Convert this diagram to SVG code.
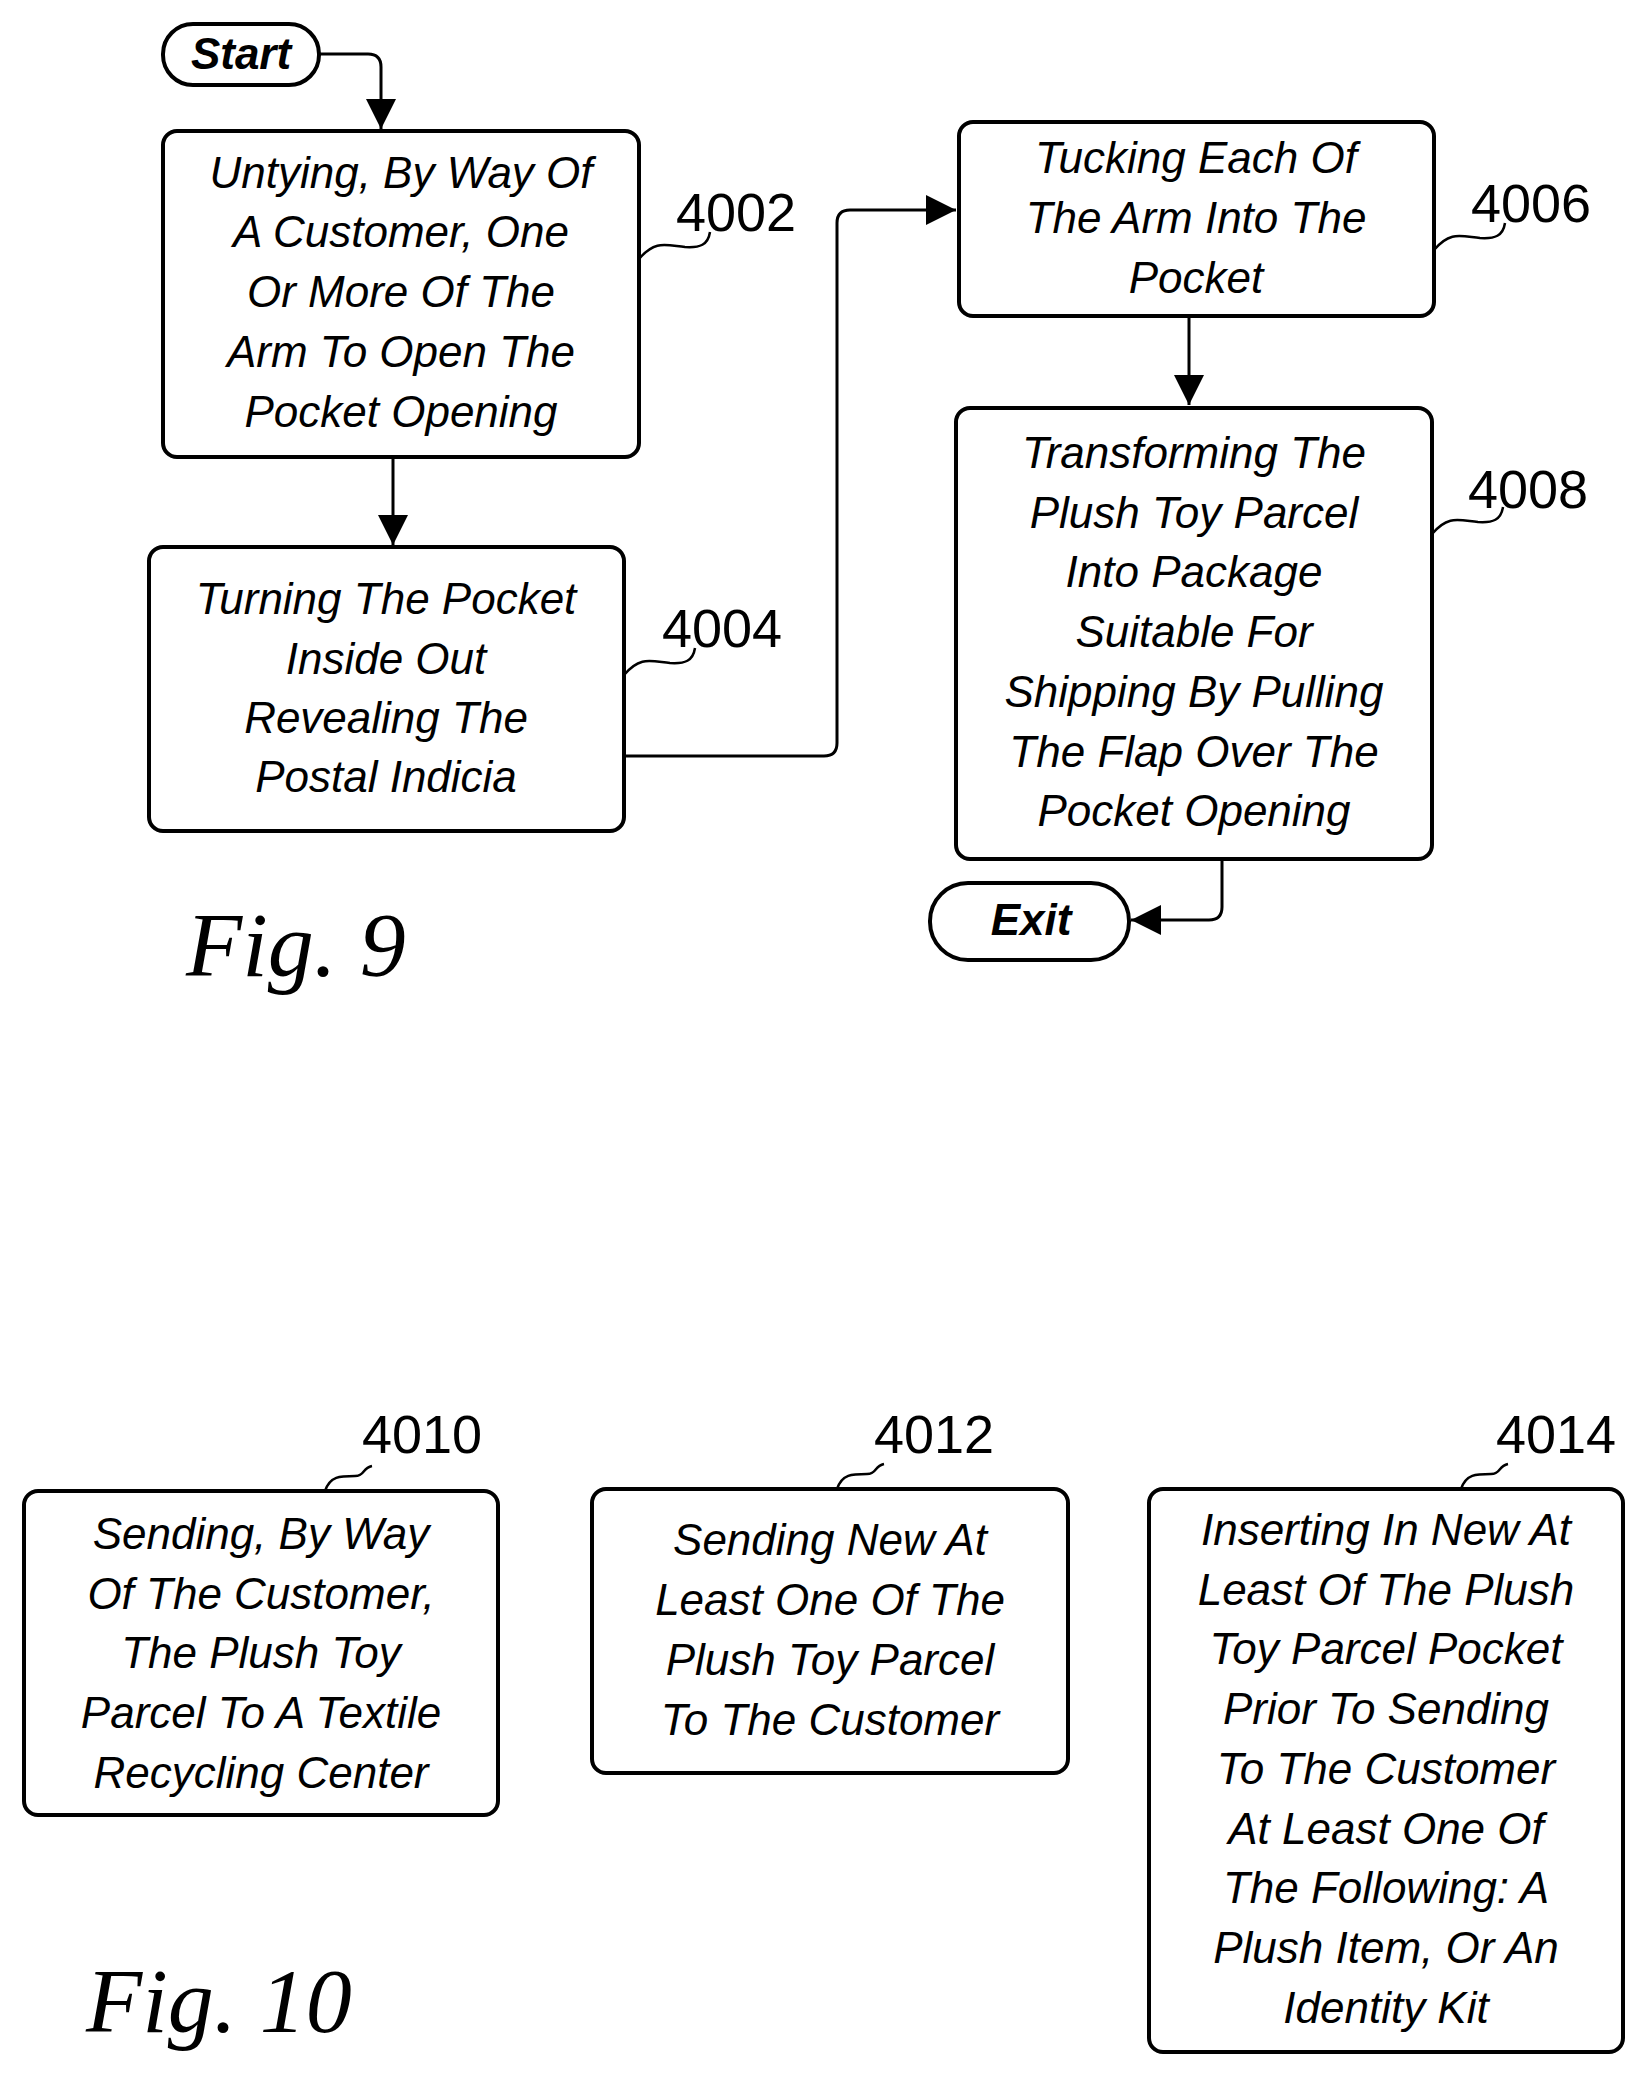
<svg xmlns="http://www.w3.org/2000/svg" width="1647" height="2082" viewBox="0 0 1647 2082">
<style>
.b{fill:#fff;stroke:#000;stroke-width:4}
.t{font-family:"Liberation Sans",Arial,sans-serif;font-style:italic;font-size:44px;text-anchor:middle}
.l{font-family:"Liberation Sans",Arial,sans-serif;font-size:54px;text-anchor:middle}
.p{font-family:"Liberation Sans",Arial,sans-serif;font-style:italic;font-weight:bold;font-size:44px;text-anchor:middle}
.f{font-family:"Liberation Serif","Times New Roman",serif;font-style:italic;font-size:92px}
.c{fill:none;stroke:#000;stroke-width:3}
.s{fill:none;stroke:#000;stroke-width:2.5}
</style>
<defs><marker id="a" viewBox="0 0 10 10" refX="10" refY="5" markerWidth="9" markerHeight="9" markerUnits="userSpaceOnUse" orient="auto"><path d="M0,0L10,5L0,10z"/></marker>
<marker id="m" viewBox="0 0 10 10" refX="10" refY="5" markerWidth="10" markerHeight="10" orient="auto"><path d="M0,0L10,5L0,10z"/></marker></defs>
<g id="connectors">
<path class="c" d="M319,54H368Q381,54 381,67V129" marker-end="url(#m)"/>
<path class="c" d="M393,457V545" marker-end="url(#m)"/>
<path class="c" d="M624,756H824Q837,756 837,743V223Q837,210 850,210H956" marker-end="url(#m)"/>
<path class="c" d="M1189,316V405" marker-end="url(#m)"/>
<path class="c" d="M1222,859V907Q1222,920 1209,920H1131" marker-end="url(#m)"/>
</g>
<g id="start"><rect class="b" x="163" y="24" width="156" height="61" rx="30"/><text class="p" x="241" y="69">Start</text></g>
<g id="n4002"><rect class="b" x="163" y="131" width="476" height="326" rx="14"/>
<text class="t"><tspan x="401" y="188">Untying, By Way Of</tspan><tspan x="401" y="247">A Customer, One</tspan><tspan x="401" y="307">Or More Of The</tspan><tspan x="401" y="367">Arm To Open The</tspan><tspan x="401" y="427">Pocket Opening</tspan></text>
<path class="s" d="M639,259C655,240 665,245 685,247C700,248 708,245 710,232"/><text class="l" x="736" y="231">4002</text></g>
<g id="n4004"><rect class="b" x="149" y="547" width="475" height="284" rx="14"/>
<text class="t"><tspan x="386" y="614">Turning The Pocket</tspan><tspan x="386" y="674">Inside Out</tspan><tspan x="386" y="733">Revealing The</tspan><tspan x="386" y="792">Postal Indicia</tspan></text>
<path class="s" d="M624,675C640,656 650,661 670,663C685,664 693,661 695,648"/><text class="l" x="722" y="647">4004</text></g>
<g id="n4006"><rect class="b" x="959" y="122" width="475" height="194" rx="14"/>
<text class="t"><tspan x="1196" y="173">Tucking Each Of</tspan><tspan x="1196" y="233">The Arm Into The</tspan><tspan x="1196" y="293">Pocket</tspan></text>
<path class="s" d="M1434,250C1450,231 1460,236 1480,238C1495,239 1503,236 1505,223"/><text class="l" x="1531" y="222">4006</text></g>
<g id="n4008"><rect class="b" x="956" y="408" width="476" height="451" rx="14"/>
<text class="t"><tspan x="1194" y="468">Transforming The</tspan><tspan x="1194" y="528">Plush Toy Parcel</tspan><tspan x="1194" y="587">Into Package</tspan><tspan x="1194" y="647">Suitable For</tspan><tspan x="1194" y="707">Shipping By Pulling</tspan><tspan x="1194" y="767">The Flap Over The</tspan><tspan x="1194" y="826">Pocket Opening</tspan></text>
<path class="s" d="M1432,534C1448,515 1458,520 1478,522C1493,523 1501,520 1503,507"/><text class="l" x="1528" y="508">4008</text></g>
<g id="exit"><rect class="b" x="930" y="883" width="199" height="77" rx="38"/><text class="p" x="1031" y="935">Exit</text></g>
<text class="f" x="186" y="976">Fig. 9</text>
<g id="n4010"><rect class="b" x="24" y="1491" width="474" height="324" rx="14"/>
<text class="t"><tspan x="261" y="1549">Sending, By Way</tspan><tspan x="261" y="1609">Of The Customer,</tspan><tspan x="261" y="1668">The Plush Toy</tspan><tspan x="261" y="1728">Parcel To A Textile</tspan><tspan x="261" y="1788">Recycling Center</tspan></text>
<path class="s" d="M325,1491C330,1476 340,1476 355,1476C365,1476 362,1468 372,1466"/><text class="l" x="422" y="1453">4010</text></g>
<g id="n4012"><rect class="b" x="592" y="1489" width="476" height="284" rx="14"/>
<text class="t"><tspan x="830" y="1555">Sending New At</tspan><tspan x="830" y="1615">Least One Of The</tspan><tspan x="830" y="1675">Plush Toy Parcel</tspan><tspan x="830" y="1735">To The Customer</tspan></text>
<path class="s" d="M837,1489C842,1474 852,1474 867,1474C877,1474 874,1466 884,1464"/><text class="l" x="934" y="1453">4012</text></g>
<g id="n4014"><rect class="b" x="1149" y="1489" width="474" height="563" rx="14"/>
<text class="t"><tspan x="1386" y="1545">Inserting In New At</tspan><tspan x="1386" y="1605">Least Of The Plush</tspan><tspan x="1386" y="1664">Toy Parcel Pocket</tspan><tspan x="1386" y="1724">Prior To Sending</tspan><tspan x="1386" y="1784">To The Customer</tspan><tspan x="1386" y="1844">At Least One Of</tspan><tspan x="1386" y="1903">The Following: A</tspan><tspan x="1386" y="1963">Plush Item, Or An</tspan><tspan x="1386" y="2023">Identity Kit</tspan></text>
<path class="s" d="M1461,1489C1466,1474 1476,1474 1491,1474C1501,1474 1498,1466 1508,1464"/><text class="l" x="1556" y="1453">4014</text></g>
<text class="f" x="86" y="2032">Fig. 10</text>
</svg>
